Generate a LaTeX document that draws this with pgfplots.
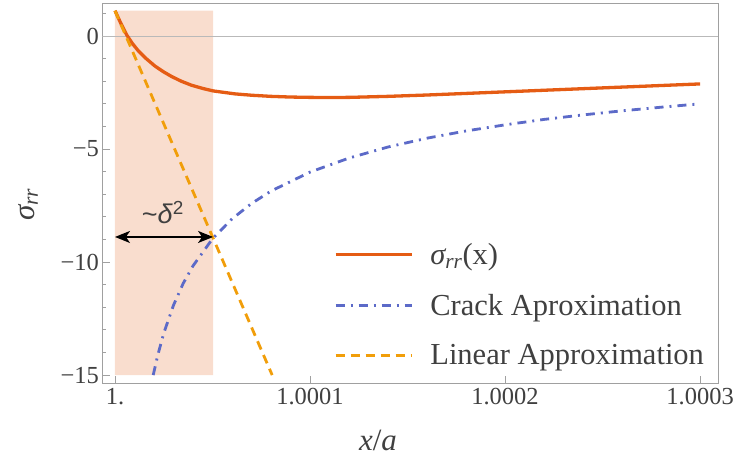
\documentclass[border=0pt]{standalone}
\usepackage{fontspec}
\setmainfont{Liberation Serif}
\newfontfamily\lsans{Liberation Sans}
\usepackage{pgfplots}
\pgfplotsset{compat=1.18}
\usetikzlibrary{arrows.meta}
\definecolor{cSolid}{RGB}{229,92,20}
\definecolor{cCrack}{RGB}{92,106,200}
\definecolor{cLin}{RGB}{241,158,10}
\definecolor{cRect}{RGB}{249,221,206}
\definecolor{cFrame}{RGB}{160,160,160}
\definecolor{cText}{RGB}{64,64,64}
\begin{document}
\begin{tikzpicture}
% x is plotted as u = (x/a - 1) * 10^5
\begin{axis}[
  at={(0,0)}, anchor=south west,
  scale only axis, width=615.5pt, height=380pt,
  xmin=-0.64, xmax=30.92, ymin=-15.35, ymax=1.46,
  axis line style={cFrame, line width=0.9pt},
  xtick={0,10,20,30}, xticklabels={1.,1.0001,1.0002,1.0003},
  ytick={-15,-10,-5,0}, yticklabels={−15,−10,−5,0},
  minor ytick={-15,-14,...,1},
  tick align=inside, xtick pos=bottom, ytick pos=left,
  major tick length=7pt, minor tick length=4pt,
  tick style={cFrame, line width=0.8pt},
  ticklabel style={font=\fontsize{24.5}{29}\selectfont, text=cText},
  xticklabel style={yshift=-2pt},
  xlabel={\textit{x}/\textit{a}}, ylabel={{\itshape σ}\textsubscript{\itshape rr}},
  label style={font=\fontsize{31}{36}\selectfont, text=cText},
  xlabel style={at={(axis description cs:0.4476,0)}, anchor=center, yshift=-57pt},
  ylabel style={at={(axis description cs:-0.121,0.47)}, anchor=center},
  legend style={draw=none, fill=none, at={(axis cs:11.07,-8.98)}, anchor=north west,
    font=\fontsize{30.5}{36}\selectfont, text=cText, row sep=24pt,
    /tikz/every odd column/.append style={column sep=15pt}},
  legend cell align=left,
  legend image code/.code={\draw[#1] (0pt,0pt) -- (76pt,0pt);},
]
\addplot[forget plot, fill=cRect, draw=none] coordinates {(0,-15) (5.03,-15) (5.03,1.12) (0,1.12) (0,-15)};
\addplot[forget plot, color=gray!55, line width=0.9pt] coordinates {(-0.64,0) (30.92,0)};

\addplot[cSolid, line width=3.3pt] coordinates {
(0,1.12) (0.3,0.56) (0.6,0.05) (0.9,-0.34) (1.2,-0.66) (1.6,-1.0) (2.05,-1.33)
(2.5,-1.59) (2.9,-1.79) (3.4,-2.0) (3.93,-2.18) (4.5,-2.32) (5.04,-2.43) (6.15,-2.56)
(7,-2.62) (8,-2.67) (9,-2.70) (10,-2.715) (11,-2.72) (12,-2.715) (14,-2.67) (16,-2.61)
(18,-2.54) (20,-2.47) (22,-2.40) (24,-2.33) (26,-2.26) (28,-2.19) (30,-2.12)};
\addlegendentry{{\itshape σ}\textsubscript{\itshape rr}(x)}

\addplot[cCrack, line width=2.8pt, dash pattern=on 9pt off 6pt on 2pt off 6pt] coordinates {
(1.96,-15.0) (2.2,-14.10) (2.5,-13.15) (3,-11.91) (3.5,-10.94) (4,-10.17) (5,-8.97)
(6,-8.09) (7,-7.41) (8,-6.86) (10,-6.02) (12,-5.40) (14,-4.91) (16,-4.52) (18,-4.20)
(20,-3.93) (22,-3.69) (24,-3.49) (26,-3.31) (28,-3.15) (30,-3.00)};
\addlegendentry{Crack Aproximation}

\addplot[cLin, line width=2.8pt, dash pattern=on 9pt off 6pt] coordinates {(0,1.12) (8.06,-15)};
\addlegendentry{Linear Approximation}

\addplot[forget plot, black, line width=1.7pt, {Stealth[length=15pt,width=12pt,inset=4pt]}-{Stealth[length=15pt,width=12pt,inset=4pt]}] coordinates {(0,-8.89) (5.03,-8.89)};
\node[text=cText, font=\lsans\fontsize{27}{32}\selectfont] at (axis cs:2.45,-7.8) {\textasciitilde\textit{δ}\textsuperscript{2}};
\end{axis}
\pgfresetboundingbox
\path[use as bounding box] (-102.5pt,-78pt) rectangle (638.5pt,383pt);
\end{tikzpicture}
\end{document}
